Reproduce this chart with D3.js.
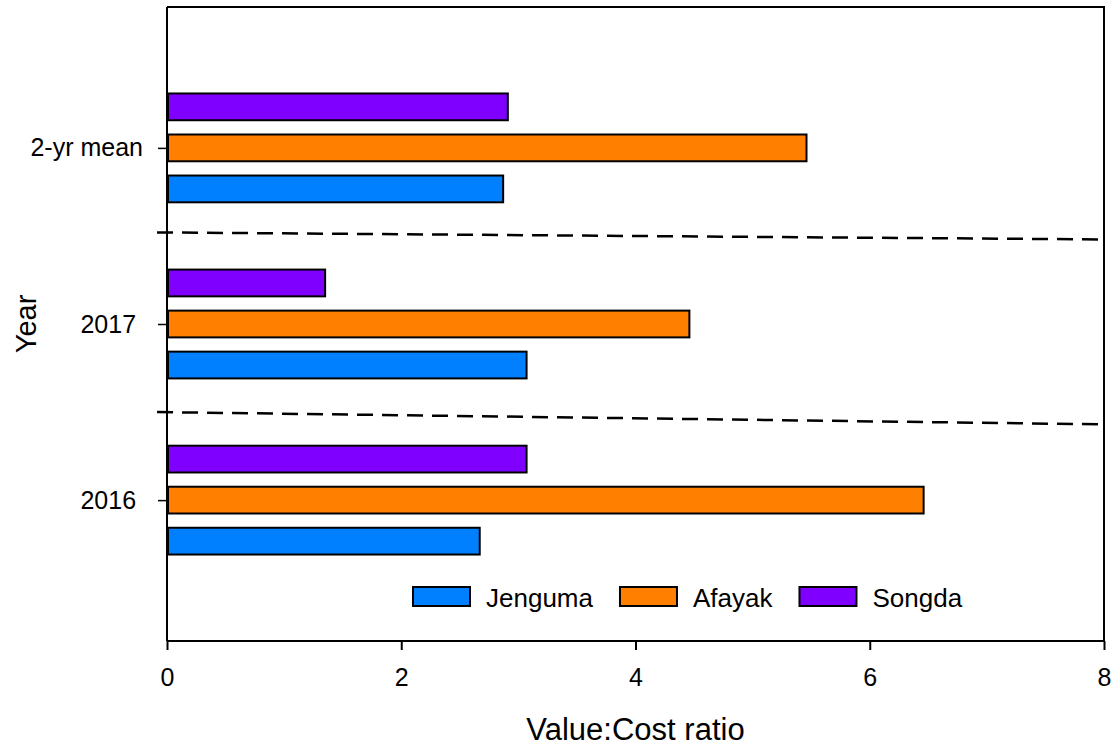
<!DOCTYPE html>
<html>
<head>
<meta charset="utf-8">
<script src="https://cdn.jsdelivr.net/npm/d3@7"></script>
<style>
  html, body { margin: 0; padding: 0; background: #fff; }
  svg { display: block; font-family: Arial, "Liberation Sans", sans-serif; }
  .ylab text { white-space: pre; }
</style>
</head>
<body>
<svg id="chart" width="1117" height="749"></svg>
<script>
// Value:cost ratios by year and site
const years = ["2016", "2017", "2-yr mean"];
const yearLabels = ["2016 ", "2017 ", "2-yr mean"];
const sites = ["Jenguma", "Afayak", "Songda"];
const jenguma = [2.67, 3.07, 2.87];
const afayak = [6.46, 4.46, 5.46];
const songda = [3.07, 1.35, 2.91];
const xTicks = [0, 2, 4, 6, 8];
// dashed separators between year groups: [x, yPosition] pairs
const separators = [
  [[-0.085, 1.50], [8, 1.43]],
  [[-0.085, 2.52], [8, 2.48]]
];
const colors = ["#0080ff", "#ff8000", "#8000ff"];

const series = [jenguma, afayak, songda];
const offsets = [-0.233, 0, 0.233];
const barThick = 0.152;

const mLeft = 167, mRight = 1104, mTop = 7, mBottom = 641;
const svg = d3.select("#chart");
const FONT = "Arial, 'Liberation Sans', sans-serif";

const x = d3.scaleLinear().domain([0, 8]).range([mLeft, mRight]);
const y = d3.scaleLinear().domain([0.2, 3.8]).range([mBottom, mTop]);

// bars
series.forEach((vals, si) => {
  svg.append("g").selectAll("rect")
    .data(vals)
    .join("rect")
    .attr("x", x(0) + 1)
    .attr("y", (d, i) => y(i + 1 + offsets[si] + barThick / 2))
    .attr("width", d => x(d) - x(0) - 1)
    .attr("height", y(0) - y(barThick))
    .attr("fill", colors[si])
    .attr("stroke", "#000")
    .attr("stroke-width", 2);
});

// separators
const line = d3.line().x(d => x(d[0])).y(d => y(d[1]));
svg.append("g").selectAll("path")
  .data(separators)
  .join("path")
  .attr("d", line)
  .attr("fill", "none")
  .attr("stroke", "#000")
  .attr("stroke-width", 2.5)
  .attr("stroke-dasharray", "16,9");

// frame: top and right borders
svg.append("path")
  .attr("d", `M${mLeft},${mTop}H${mRight}V${mBottom}`)
  .attr("fill", "none")
  .attr("stroke", "#000")
  .attr("stroke-width", 2);

// x axis
const xAxis = svg.append("g")
  .attr("transform", `translate(0,${mBottom})`)
  .call(d3.axisBottom(x).tickValues(xTicks).tickFormat(d3.format("d")).tickSize(9).tickPadding(18).tickSizeOuter(0));
xAxis.select(".domain").attr("stroke-width", 2).attr("d", `M${mLeft},0H${mRight}`);
xAxis.selectAll(".tick line").attr("stroke-width", 2);
xAxis.selectAll("text").attr("font-size", 25).attr("font-family", FONT).attr("fill", "#000");

// y axis
const yAxis = svg.append("g")
  .attr("class", "ylab")
  .attr("transform", `translate(${mLeft},0)`)
  .call(d3.axisLeft(y).tickValues([1, 2, 3]).tickFormat((d, i) => yearLabels[i]).tickSize(9).tickPadding(15).tickSizeOuter(0));
yAxis.select(".domain").attr("stroke-width", 2).attr("d", `M0,${mTop}V${mBottom}`);
yAxis.selectAll(".tick line").attr("stroke-width", 1.5);
yAxis.selectAll("text").attr("font-size", 25).attr("font-family", FONT).attr("fill", "#000");

// axis titles
svg.append("text")
  .attr("x", (mLeft + mRight) / 2).attr("y", 740)
  .attr("text-anchor", "middle")
  .attr("font-size", 31)
  .text("Value:Cost ratio");
svg.append("text")
  .attr("transform", "translate(36,324) rotate(-90)")
  .attr("text-anchor", "middle")
  .attr("font-size", 29)
  .text("Year");

// legend
const legend = svg.append("g").attr("transform", "translate(413,587)");
let lx = 0;
sites.forEach((s, i) => {
  const g = legend.append("g").attr("transform", `translate(${lx},0)`);
  g.append("rect").attr("width", 57).attr("height", 19)
    .attr("fill", colors[i]).attr("stroke", "#000").attr("stroke-width", 2);
  const t = g.append("text").attr("x", 73).attr("y", 20).attr("font-size", 26).text(s);
  lx += 73 + t.node().getComputedTextLength() + 27;
});
</script>
</body>
</html>
